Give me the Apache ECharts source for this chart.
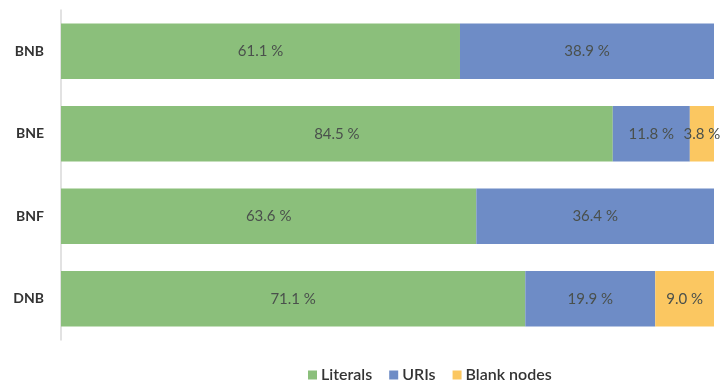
<!DOCTYPE html>
<html>
<head>
<meta charset="utf-8">
<script src="https://cdn.jsdelivr.net/npm/echarts@6/dist/echarts.min.js"></script>
<style>
  html, body { margin: 0; padding: 0; background: #ffffff; }
  #chart { width: 721px; height: 383px; }
</style>
</head>
<body>
<div id="chart"></div>
<script>
// Share of object types per dataset (percent of triples)
const categories = ['BNB', 'BNE', 'BNF', 'DNB'];
const literals   = [61.1, 84.5, 63.6, 71.1];
const uris       = [38.9, 11.8, 36.4, 19.9];
const blankNodes = [0, 3.8, 0, 9.0];

const seriesNames = ['Literals', 'URIs', 'Blank nodes'];
const seriesColors = ['#8bbf7b', '#6e8cc6', '#fbc761'];

const FONT = 'Lato, "Open Sans", sans-serif';

const chart = echarts.init(document.getElementById('chart'), null, { renderer: 'canvas' });

function makeSeries(name, values, color) {
  return {
    name: name,
    type: 'bar',
    stack: 'total',
    barCategoryGap: '33%',
    data: values,
    itemStyle: { color: color },
    label: {
      show: true,
      position: 'inside',
      color: '#4a504c',
      fontFamily: FONT,
      fontSize: 15,
      formatter: p => (p.value > 0 ? p.value.toFixed(1) + ' %' : '')
    },
    emphasis: { disabled: true }
  };
}

chart.setOption({
  animation: false,
  backgroundColor: '#ffffff',
  grid: { left: 61, right: 7, top: 10, bottom: 43, containLabel: false },
  legend: {
    left: 303,
    top: 362,
    itemWidth: 9,
    itemHeight: 9,
    itemGap: 17,
    icon: 'rect',
    textStyle: { color: '#333333', fontFamily: FONT, fontSize: 16, fontWeight: 600, padding: [0, 0, 0, -1] },
    data: seriesNames
  },
  xAxis: {
    type: 'value',
    min: 0,
    max: 100,
    show: false
  },
  yAxis: {
    type: 'category',
    inverse: true,
    data: categories,
    axisLine: { show: true, lineStyle: { color: '#d9d9d9', width: 1.5 } },
    axisTick: { show: false },
    axisLabel: {
      color: '#333333',
      fontFamily: FONT,
      fontSize: 14,
      fontWeight: 'bold',
      margin: 17
    }
  },
  series: [
    makeSeries(seriesNames[0], literals, seriesColors[0]),
    makeSeries(seriesNames[1], uris, seriesColors[1]),
    makeSeries(seriesNames[2], blankNodes, seriesColors[2])
  ]
});
</script>
</body>
</html>
